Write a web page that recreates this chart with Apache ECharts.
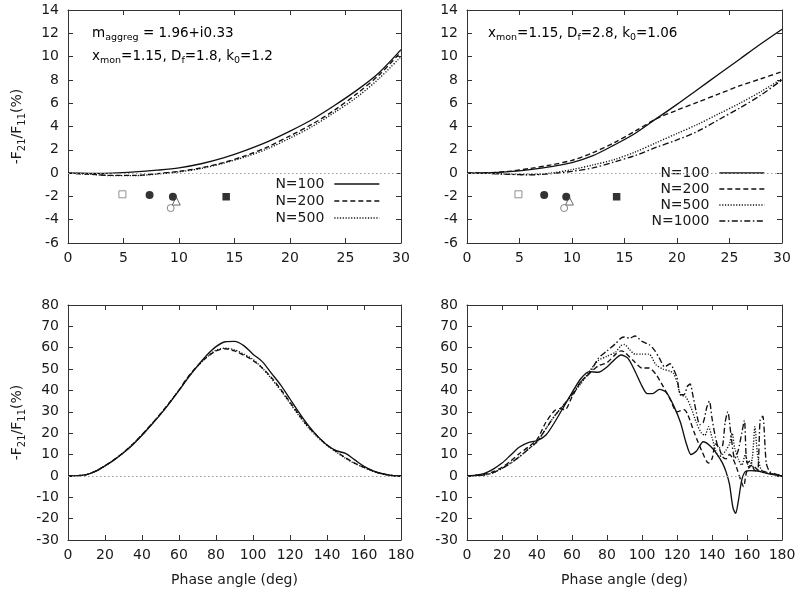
<!DOCTYPE html>
<html><head><meta charset="utf-8">
<script src="https://cdn.jsdelivr.net/npm/echarts@6/dist/echarts.min.js"></script>
<style>html,body{margin:0;padding:0;background:#fff}#c{width:800px;height:592px}</style>
</head><body><div id="c"></div>
<script>
// ---------- data ----------
const seriesNames = ['N=100', 'N=200', 'N=500', 'N=1000'];

// top-left panel (Df=1.8), phase angle 0..30
const tlX = [0,2,4,6,8,10,12,14,16,18,20,22,24,26,28,30];
const tlN100 = [0,-0.02,0.0,0.1,0.25,0.45,0.8,1.3,1.95,2.7,3.6,4.6,5.8,7.1,8.6,10.6];
const tlN200 = [0,-0.1,-0.2,-0.2,-0.05,0.15,0.45,0.9,1.5,2.25,3.2,4.2,5.4,6.8,8.4,10.4];
const tlN500 = [0,-0.1,-0.22,-0.22,-0.08,0.1,0.4,0.85,1.4,2.1,3.0,4.0,5.2,6.5,8.1,10.0];

// top-right panel (Df=2.8), phase angle 0..30
const trX = [0,2,4,6,8,10,12,14,16,18,20,22,24,26,28,30];
const trN100 = [0,0.02,0.12,0.3,0.55,0.9,1.5,2.4,3.4,4.65,5.9,7.2,8.5,9.8,11.1,12.35];
const trN200 = [0,0.03,0.15,0.4,0.7,1.1,1.75,2.6,3.6,4.65,5.4,6.1,6.8,7.5,8.1,8.7];
const trN500 = [0,-0.02,-0.1,-0.12,0.0,0.3,0.7,1.15,1.8,2.6,3.4,4.2,5.1,6.0,7.0,8.1];
const trN1000 = [0,-0.02,-0.1,-0.15,-0.05,0.15,0.45,0.95,1.5,2.2,2.85,3.6,4.6,5.6,6.7,8.0];

// observation points (top panels)
const obsOpenSquare = [[4.9, -1.82]];
const obsFilledCircle = [[7.35, -1.88], [9.45, -2.03]];
const obsOpenTriangle = [[9.75, -2.4]];
const obsOpenCircle = [[9.25, -3.0]];
const obsFilledSquare = [[14.25, -2.03]];

// bottom-left panel (Df=1.8), phase angle 0..180
const blX = [0,5,10,15,20,25,30,35,40,45,50,55,60,65,70,75,80,85,90,95,100,105,110,115,120,125,130,135,140,145,150,155,160,165,170,175,180];
const blN100 = [0,0.1,0.6,2.2,4.7,7.5,10.8,14.6,19,23.8,28.8,34.2,40,46,51.5,56.5,60.5,62.8,63,61,57,53.5,48,42.5,36,29.5,23.5,18.5,14.5,11.8,10.5,7.5,4.5,2.4,1.0,0.2,0];
const blN200 = [0,0.1,0.6,2.2,4.8,7.7,11.0,14.9,19.3,24.1,29.1,34.5,40.2,46.5,51.5,55.5,58.5,59.5,58.5,56.5,54,50.5,46,40.5,34.5,28.5,23,18.5,14.5,11.5,8.5,6,4,2.2,1.0,0.2,0];
const blN500 = [0,0.1,0.6,2.2,4.7,7.6,10.9,14.8,19.2,24.0,29.0,34.4,40.1,46.2,51.2,55.6,58.8,59.8,59,57,54.5,50.5,45.5,40,34,28,22.5,18,14.2,11.2,8.2,5.8,3.9,2.1,0.9,0.2,0];

// bottom-right panel (Df=2.8), phase angle 0..180
const brX100 = [0,5,10,15,20,25,30,35,40,45,50,55,60,65,70,75,80,85,88,92,96,100,103,106,110,114,118,122,125,128,131,135,139,143,146,148,150,152,153.5,155,157,159,162,166,170,175,180];
const brN100 = [0,0.3,1.2,3.2,6,9.8,13.5,15.6,16.5,19,25,32,39,45.5,48.8,48.5,51,55,56.6,55,49,42,38.5,38.5,40.5,39,33,25,16,10,11.5,16,14,10,6,2,-4,-15,-17.5,-12,-2,2,2.5,2.3,1.5,0.6,0];
const brX200 = [0,5,10,15,20,25,30,35,40,45,50,53,56,60,65,70,75,80,85,88,90,95,100,104,108,112,116,120,124,126,130,134,138,140,142,144,146,148,150,152,154,156,158,160,163,166,170,175,180];
const brN200 = [0,0.2,0.8,2,4,7,10.5,13.5,17,25,30.5,31.5,31,37,44,48,51.5,53,57,58.5,58,54,50.5,50.5,47.5,42,36,30,31,29,20,12,6,8,15,13,9,8,10,8,4,-1,-5,2.5,5,3,2,0.8,0];
const brX500 = [0,5,10,15,20,25,30,35,40,45,50,55,60,65,70,75,80,85,88,90,93,96,100,104,108,112,116,118,120,122,125,128,131,134,136,138,140,142,144,146,148,150,151.5,153,155,157,159,161,163,164.5,166,168,170,175,180];
const brN500 = [0,0.1,0.4,1.5,3.5,6,9,12.5,16,22,28,33,38,43,49,54,56,58,61,61.5,59,57,57,57,52,50,49,48,44,38,37,32,25,20,19,23,18,12,9,10,12,15,20,13,8,5,10,4,8,23,10,3,2,0.8,0];
const brX1000 = [0,5,10,15,20,25,30,35,40,45,50,55,60,65,70,75,80,85,88,90,93,96,100,104,107,110,113,116,118,120,122,124,126,127.5,129,131,133,135,137,138.5,140,142,144,146,147.5,149,151,153,155,157,158.5,160,162,164,166,167.5,169,171,173,176,180];
const brN1000 = [0,0.2,0.5,1.5,3.5,6,9,12.5,16,22,28,33,38,44,48,55,58.5,62,64.5,65,64.5,65.5,63,61.5,59,55,51,52.5,50,46,38,38,42,43,38,30,24,25,32,35,27,18,13,14,25,30,18,8,12,20,26,6,7,3,2,26,28,6,2,1,0];

// axis settings
const topXTicks = {min: 0, max: 30, interval: 5};
const topYTicks = {min: -6, max: 14, interval: 2};
const botXTicks = {min: 0, max: 180, interval: 20};
const botYTicks = {min: -30, max: 80, interval: 10};

// ---------- build ----------
const FONT = 'DejaVu Sans';
const TXT = '#1a1a1a';
const AX = '#333';
const LINE = '#111';
const pairs = (xs, ys) => xs.map((x, i) => [x, ys[i]]);

const grids = [
  {left: 68, top: 10, width: 333, height: 233},
  {left: 467, top: 10, width: 315, height: 233},
  {left: 68, top: 305, width: 333, height: 235},
  {left: 467, top: 305, width: 315, height: 235}
];

const subRich = {
  n: {fontFamily: FONT, fontSize: 13.5, color: TXT, lineHeight: 23},
  s: {fontFamily: FONT, fontSize: 9.5, color: TXT, lineHeight: 13, padding: [10, 0, 0, 0]}
};
const nameRich = {
  n: {fontFamily: FONT, fontSize: 14, color: TXT, lineHeight: 22},
  s: {fontFamily: FONT, fontSize: 10, color: TXT, lineHeight: 12, padding: [10, 0, 0, 0]}
};

const xAxes = [], yAxes = [];
function addAxes(gi, xt, yt, xName, yName) {
  const common = {
    type: 'value', gridIndex: gi,
    axisLine: {show: true, onZero: false, lineStyle: {color: AX, width: 1}},
    axisTick: {show: true, inside: true, length: 5, lineStyle: {color: AX}},
    splitLine: {show: false}
  };
  xAxes.push(Object.assign({}, common, xt, {
    position: 'bottom',
    axisLabel: {fontFamily: FONT, fontSize: 14, color: TXT, margin: 8},
    name: xName || '', nameLocation: 'middle', nameGap: 33,
    nameTextStyle: {fontFamily: FONT, fontSize: 14, color: TXT}
  }));
  xAxes.push(Object.assign({}, common, xt, {position: 'top', axisLabel: {show: false}}));
  yAxes.push(Object.assign({}, common, yt, {
    position: 'left',
    axisLabel: {fontFamily: FONT, fontSize: 14, color: TXT, margin: 9},
    name: yName || '', nameLocation: 'middle', nameGap: 40, nameRotate: 90,
    nameTextStyle: {rich: nameRich}
  }));
  yAxes.push(Object.assign({}, common, yt, {position: 'right', axisLabel: {show: false}}));
}
const yName = '{n|-F}{s|21}{n|/F}{s|11}{n|(%)}';
addAxes(0, topXTicks, topYTicks, '', yName);
addAxes(1, topXTicks, topYTicks, '', '');
addAxes(2, botXTicks, botYTicks, 'Phase angle (deg)', yName);
addAxes(3, botXTicks, botYTicks, 'Phase angle (deg)', '');

const lineTypes = {
  'N=100': 'solid',
  'N=200': [5, 3],
  'N=500': [1.2, 1.6],
  'N=1000': [6, 2.5, 1.5, 2.5]
};
const zeroLine = {
  silent: true, symbol: 'none', label: {show: false},
  lineStyle: {type: [1.5, 2.5], color: '#9a9a9a', width: 1},
  data: [{yAxis: 0}], animation: false
};
const series = [];
function addLine(gi, name, xs, ys, withZero, smooth) {
  const s = {
    type: 'line', name: name, xAxisIndex: gi * 2, yAxisIndex: gi * 2,
    data: pairs(xs, ys), symbol: 'none', smooth: smooth,
    lineStyle: {color: LINE, width: 1.35, type: lineTypes[name]},
    itemStyle: {color: LINE}, z: 3
  };
  if (withZero) s.markLine = zeroLine;
  series.push(s);
}
addLine(0, 'N=100', tlX, tlN100, true, 0.3);
addLine(0, 'N=200', tlX, tlN200, false, 0.3);
addLine(0, 'N=500', tlX, tlN500, false, 0.3);
addLine(1, 'N=100', trX, trN100, true, 0.3);
addLine(1, 'N=200', trX, trN200, false, 0.3);
addLine(1, 'N=500', trX, trN500, false, 0.3);
addLine(1, 'N=1000', trX, trN1000, false, 0.3);
addLine(2, 'N=100', blX, blN100, true, 0.3);
addLine(2, 'N=200', blX, blN200, false, 0.3);
addLine(2, 'N=500', blX, blN500, false, 0.3);
addLine(3, 'N=100', brX100, brN100, true, 0.25);
addLine(3, 'N=200', brX200, brN200, false, 0.25);
addLine(3, 'N=500', brX500, brN500, false, 0.25);
addLine(3, 'N=1000', brX1000, brN1000, false, 0.25);

function addObs(gi) {
  const base = {type: 'scatter', xAxisIndex: gi * 2, yAxisIndex: gi * 2, z: 4, silent: true};
  series.push(Object.assign({}, base, {name: 'obs-sq', data: obsOpenSquare, symbol: 'rect', symbolSize: 7,
    itemStyle: {color: '#fff', borderColor: '#777', borderWidth: 1}}));
  series.push(Object.assign({}, base, {name: 'obs-fc', data: obsFilledCircle, symbol: 'circle', symbolSize: 8,
    itemStyle: {color: '#000'}}));
  series.push(Object.assign({}, base, {name: 'obs-tri', data: obsOpenTriangle, symbol: 'triangle', symbolSize: 8,
    itemStyle: {color: 'rgba(255,255,255,0)', borderColor: '#444', borderWidth: 1}}));
  series.push(Object.assign({}, base, {name: 'obs-oc', data: obsOpenCircle, symbol: 'circle', symbolSize: 7,
    itemStyle: {color: '#fff', borderColor: '#666', borderWidth: 1}}));
  series.push(Object.assign({}, base, {name: 'obs-fs', data: obsFilledSquare, symbol: 'rect', symbolSize: 7.5,
    itemStyle: {color: '#000'}}));
}
addObs(0);
addObs(1);

function legendItems(names) {
  return names.map(n => ({
    name: n, icon: 'line',
    itemStyle: {color: LINE, borderColor: LINE, borderWidth: 1.35, borderType: lineTypes[n]}
  }));
}
const legendCommon = {
  orient: 'vertical', align: 'right', itemWidth: 45, itemHeight: 14,
  selectedMode: false, padding: 0,
  textStyle: {fontFamily: FONT, fontSize: 14, color: TXT, padding: [0, 5, 0, 0]}
};
const legends = [
  Object.assign({}, legendCommon, {data: legendItems(seriesNames.slice(0, 3)), right: 420, top: 177, itemGap: 3}),
  Object.assign({}, legendCommon, {data: legendItems(seriesNames.slice(0, 4)), right: 35, top: 166, itemGap: 2})
];

const option = {
  animation: false,
  backgroundColor: '#fff',
  grid: grids,
  xAxis: xAxes,
  yAxis: yAxes,
  legend: legends,
  series: series,
  graphic: [
    {type: 'text', left: 92, top: 23, style: {
      text: '{n|m}{s|aggreg}{n| = 1.96+i0.33}\n{n|x}{s|mon}{n|=1.15, D}{s|f}{n|=1.8, k}{s|0}{n|=1.2}',
      rich: subRich}},
    {type: 'text', left: 488, top: 23, style: {
      text: '{n|x}{s|mon}{n|=1.15, D}{s|f}{n|=2.8, k}{s|0}{n|=1.06}',
      rich: subRich}}
  ]
};
const chart = echarts.init(document.getElementById('c'), null, {renderer: 'canvas'});
chart.setOption(option);
</script></body></html>
